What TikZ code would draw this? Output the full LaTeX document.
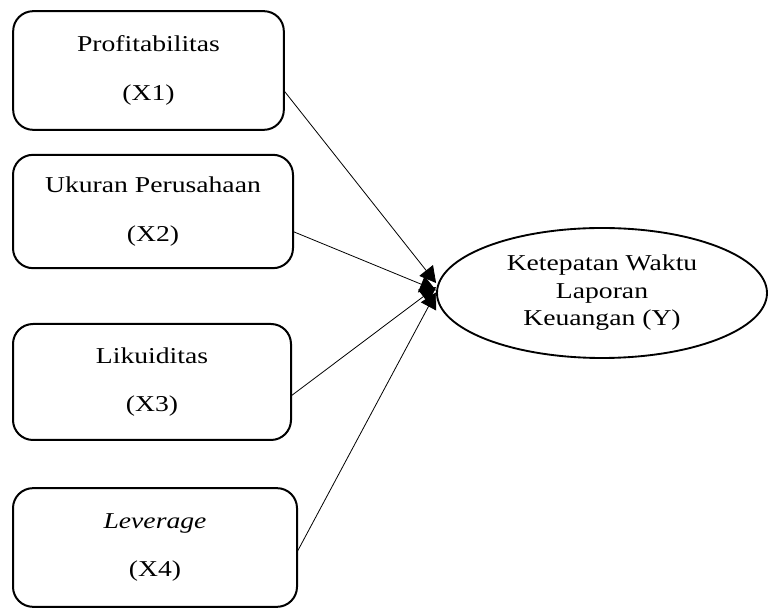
\documentclass[tikz,border=0pt]{standalone}
\usepackage{fontspec}
\setmainfont{Liberation Serif}[FakeStretch=1.22]
\usetikzlibrary{positioning,shapes.geometric,arrows.meta}

\begin{document}
\begin{tikzpicture}[x=0.75pt, y=-0.75pt,
BoxStyle/.style={draw, line width=1.5pt, rounded corners=15pt, align=center,
                inner sep=0pt, outer sep=0pt,
                font=\fontsize{17}{20.6}\selectfont},
EllStyle/.style={draw, ellipse, line width=1.4pt, align=center,
                minimum width=247.5pt, minimum height=97.5pt, inner sep=0pt,
                font=\fontsize{17}{20.6}\selectfont},
ArrStyle/.style={line width=0.6pt, -{Triangle[length=12pt, width=13pt]}},]
\useasboundingbox (0,0) rectangle (769,609);
% variables
\node [BoxStyle, minimum width=203pt, minimum height=89pt] (x1) at (148.5,70.5)
      {Profitabilitas\\[16pt](X1)};
\node [BoxStyle, minimum width=210pt, minimum height=85pt] (x2) at (153,211.5)
      {Ukuran Perusahaan\\[16pt](X2)};
\node [BoxStyle, minimum width=208.5pt, minimum height=87pt] (x3) at (152,382)
      {Likuiditas\\[16pt](X3)};
\node [BoxStyle, minimum width=213pt, minimum height=89pt] (x4) at (155,547.5)
      {\textit{Leverage}\\[16pt](X4)};
\node [EllStyle] (y) at (602,293) {Ketepatan Waktu\\Laporan\\Keuangan (Y)};
% arrows
\draw [ArrStyle] ([yshift=-15pt]x1.east) -- ([yshift=7.5pt]y.west);
\draw [ArrStyle] ([yshift=-15pt]x2.east) -- ([yshift=2pt]y.west);
\draw [ArrStyle] ([yshift=-10.5pt]x3.east) -- ([yshift=4.5pt]y.west);
\draw [ArrStyle] ([yshift=-3.5pt]x4.east) -- ([yshift=0.5pt]y.west);
\end{tikzpicture}
\end{document}
